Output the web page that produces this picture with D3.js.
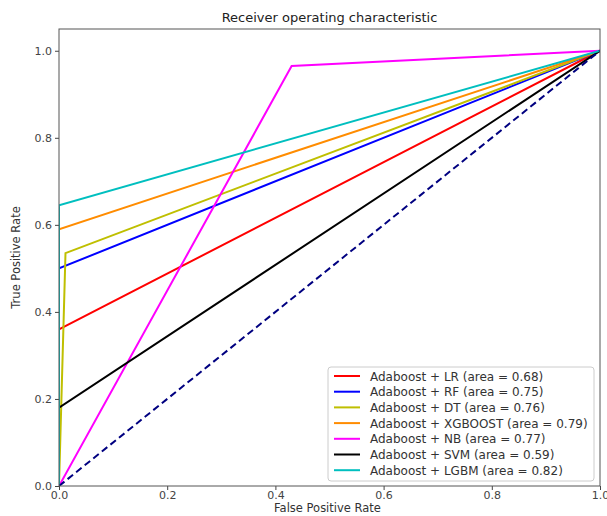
<!DOCTYPE html>
<html>
<head>
<meta charset="utf-8">
<script src="https://cdn.jsdelivr.net/npm/d3@7"></script>
<style>
  body { margin: 0; background: #fff; }
  text { font-family: "DejaVu Sans", sans-serif; }
</style>
</head>
<body>
<div id="chart"></div>
<script>
var modelNames = ["Adaboost + LR", "Adaboost + RF", "Adaboost + DT", "Adaboost + XGBOOST", "Adaboost + NB", "Adaboost + SVM", "Adaboost + LGBM"];
var modelAreas = ["0.68", "0.75", "0.76", "0.79", "0.77", "0.59", "0.82"];
var modelColors = ["#ff0000", "#0000ff", "#bfbf00", "#ff8c00", "#ff00ff", "#000000", "#00bfbf"];
// roc points, fpr and tpr
var fprValues = [
  [0, 0, 1],
  [0, 0, 1],
  [0, 0.012, 1],
  [0, 0, 1],
  [0, 0.43, 1],
  [0, 0, 1],
  [0, 0, 1]
];
var tprValues = [
  [0, 0.36, 1],
  [0, 0.50, 1],
  [0, 0.535, 1],
  [0, 0.59, 1],
  [0, 0.965, 1],
  [0, 0.18, 1],
  [0, 0.645, 1]
];
var xTicks = [0, 0.2, 0.4, 0.6, 0.8, 1.0];
var yTicks = [0, 0.2, 0.4, 0.6, 0.8, 1.0];

var width = 607, height = 516;
var margin = {left: 59, right: 7, top: 29, bottom: 30};

var svg = d3.select("#chart").append("svg")
  .attr("width", width)
  .attr("height", height);

var x = d3.scaleLinear().domain([0, 1]).range([margin.left, width - margin.right]);
var y = d3.scaleLinear().domain([0, 1.05]).range([height - margin.bottom, margin.top]);

// clip so lines don't poke outside the frame
svg.append("clipPath").attr("id", "clip")
  .append("rect")
  .attr("x", margin.left).attr("y", margin.top)
  .attr("width", width - margin.left - margin.right)
  .attr("height", height - margin.top - margin.bottom);

var line = d3.line().x(function(d) { return x(d[0]); }).y(function(d) { return y(d[1]); });

var plot = svg.append("g").attr("clip-path", "url(#clip)");

modelNames.forEach(function(name, i) {
  var pts = fprValues[i].map(function(f, j) { return [f, tprValues[i][j]]; });
  plot.append("path")
    .attr("d", line(pts))
    .attr("fill", "none")
    .attr("stroke", modelColors[i])
    .attr("stroke-width", 2);
});

// chance line
plot.append("path")
  .attr("d", line([[0, 0], [1, 1]]))
  .attr("fill", "none")
  .attr("stroke", "#000080")
  .attr("stroke-width", 2)
  .attr("stroke-dasharray", "7,4");

// axes
var xAxisGroup = svg.append("g")
  .attr("transform", "translate(0," + (height - margin.bottom) + ")")
  .call(d3.axisBottom(x).tickValues(xTicks).tickFormat(d3.format(".1f")).tickSize(4).tickPadding(1).tickSizeOuter(0));
var yAxisGroup = svg.append("g")
  .attr("transform", "translate(" + margin.left + ",0)")
  .call(d3.axisLeft(y).tickValues(yTicks).tickFormat(d3.format(".1f")).tickSize(4).tickSizeOuter(0));

[xAxisGroup, yAxisGroup].forEach(function(g) {
  g.select(".domain").remove();
  g.selectAll(".tick line").attr("stroke", "#444");
  g.selectAll(".tick text").attr("fill", "#444").style("font-size", "11px");
});

// frame
svg.append("rect")
  .attr("x", margin.left).attr("y", margin.top)
  .attr("width", width - margin.left - margin.right)
  .attr("height", height - margin.top - margin.bottom)
  .attr("fill", "none")
  .attr("stroke", "#555")
  .attr("stroke-width", 1);

// labels
svg.append("text")
  .attr("x", (margin.left + width - margin.right) / 2)
  .attr("y", 22)
  .attr("text-anchor", "middle")
  .style("font-size", "13px")
  .attr("fill", "#222")
  .text("Receiver operating characteristic");

svg.append("text")
  .attr("x", (margin.left + width - margin.right) / 2 - 2)
  .attr("y", 512)
  .attr("text-anchor", "middle")
  .style("font-size", "11.5px")
  .attr("fill", "#333")
  .text("False Positive Rate");

svg.append("text")
  .attr("transform", "translate(20," + ((margin.top + height - margin.bottom) / 2) + ") rotate(-90)")
  .attr("text-anchor", "middle")
  .style("font-size", "11.5px")
  .attr("fill", "#333")
  .text("True Positive Rate");

// legend
var legend = svg.append("g").attr("transform", "translate(328,367)");
legend.append("rect")
  .attr("width", 266).attr("height", 114)
  .attr("rx", 3)
  .attr("fill", "#fff")
  .attr("fill-opacity", 0.85)
  .attr("stroke", "#ccc");

modelNames.forEach(function(name, i) {
  var row = legend.append("g").attr("transform", "translate(0," + (9 + i * 15.7) + ")");
  row.append("line")
    .attr("x1", 6).attr("x2", 32)
    .attr("stroke", modelColors[i])
    .attr("stroke-width", 2);
  row.append("text")
    .attr("x", 42).attr("y", 4.5)
    .style("font-size", "12px")
    .attr("fill", "#333")
    .text(name + " (area = " + modelAreas[i] + ")");
});
</script>
</body>
</html>
